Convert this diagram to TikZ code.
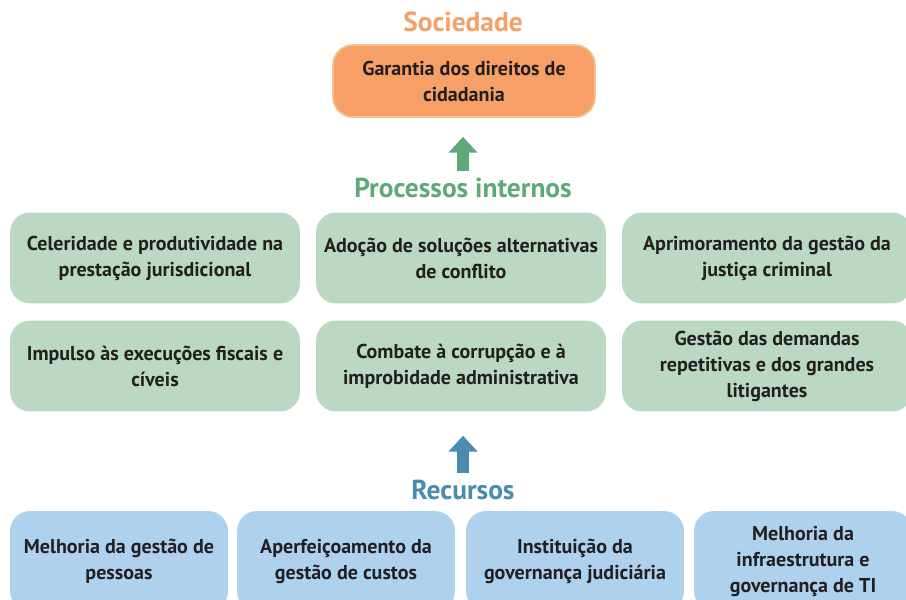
\documentclass[tikz,border=0pt]{standalone}
\usepackage{fontspec}
\setmainfont{PT Sans}
\usepackage{xcolor}
\usetikzlibrary{arrows.meta}
\definecolor{laranja}{HTML}{F6A067}
\definecolor{laranjaborda}{HTML}{F9C08F}
\definecolor{verde}{HTML}{5FA878}
\definecolor{verdeclaro}{HTML}{BAD8C4}
\definecolor{azul}{HTML}{4A8BB0}
\definecolor{azulclaro}{HTML}{AED2EE}
\definecolor{texto}{HTML}{231F20}

\begin{document}
\begin{tikzpicture}[x=0.02cm,y=-0.02cm]

		\useasboundingbox (0,0) rectangle (906,599);
		\clip (0,0) rectangle (906,599);
		\tikzset{caixa/.style={rounded corners=0.4cm, align=center, text=texto, inner sep=0pt,
				font=\fontsize{11.4}{14.8}\selectfont\bfseries}}
		\tikzset{caixaproc/.style={caixa, fill=verdeclaro, minimum width=5.8cm, minimum height=1.82cm}}
		\tikzset{caixarec/.style={caixa, fill=azulclaro, minimum width=4.36cm, minimum height=2cm}}
		\tikzset{titulo/.style={inner sep=0pt, font=\fontsize{15.6}{18}\selectfont\bfseries}}
		\tikzset{seta/.style={-{Triangle[width=16pt,length=9pt]}, line width=6.8pt}}

		\node[titulo, text=laranja] (sociedade) at (463,22) {Sociedade};
		\node[caixa, fill=laranja, draw=laranjaborda, line width=1pt,
			minimum width=5.24cm, minimum height=1.44cm] (garantia) at (464,81) {Garantia dos direitos de\\cidadania};

		\node[titulo, text=verde] (processos) at (463,188) {Processos internos};
		\node[caixaproc] (celeridade) at (155,258) {Celeridade e produtividade na\\prestação jurisdicional};
		\node[caixaproc] (adocao) at (461,258) {Adoção de soluções alternativas\\de conflito};
		\node[caixaproc] (aprimoramento) at (767,258) {Aprimoramento da gestão da\\justiça criminal};
		\node[caixaproc] (impulso) at (155,366) {Impulso às execuções fiscais e\\cíveis};
		\node[caixaproc] (combate) at (461,366) {Combate à corrupção e à\\improbidade administrativa};
		\node[caixaproc] (demandas) at (767,366) {Gestão das demandas\\repetitivas e dos grandes\\litigantes};

		\node[titulo, text=azul] (recursos) at (463,490) {Recursos};
		\node[caixarec] (pessoas) at (119,561) {Melhoria da gestão de\\pessoas};
		\node[caixarec] (custos) at (346,561) {Aperfeiçoamento da\\gestão de custos};
		\node[caixarec] (governanca) at (575,561) {Instituição da\\governança judiciária};
		\node[caixarec] (infra) at (803,561) {Melhoria da\\infraestrutura e\\governança de TI};

		\draw[seta, verde, shorten <=4pt, shorten >=10.8pt] (processos.north) -- (processos.north |- garantia.south);
		\draw[seta, azul, shorten <=4pt, shorten >=13.6pt] (recursos.north) -- (recursos.north |- combate.south);

\end{tikzpicture}
\end{document}
